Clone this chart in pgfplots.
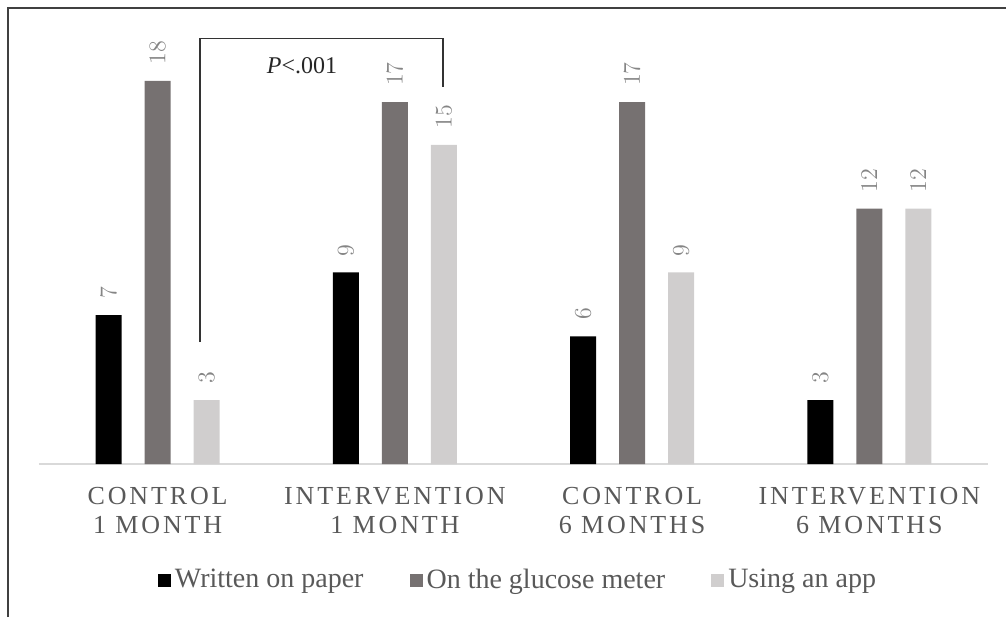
\documentclass[border=0pt]{standalone}
\usepackage{fontspec}
\setmainfont{Liberation Serif}
\newfontfamily\spaced[LetterSpace=11]{Liberation Serif}
\usepackage{pgfplots}
\pgfplotsset{compat=1.18}

\definecolor{paper}{HTML}{000000}
\definecolor{meter}{HTML}{767171}
\definecolor{app}{HTML}{D0CECE}
\definecolor{axisgray}{HTML}{D9D9D9}
\definecolor{txt}{HTML}{595959}
\definecolor{lab}{HTML}{858585}

\begin{document}
\begin{tikzpicture}
\begin{axis}[
  name=ax,
  scale only axis,
  width=474.5pt, height=212.8pt,
  xmin=-0.5, xmax=3.5, ymin=0, ymax=20,
  clip=false,
  axis x line=bottom, axis y line=none,
  x axis line style={draw=axisgray, line width=0.7pt, -},
  xtick={0,1,2,3},
  xticklabels={{CONTROL\\1 MONTH},{INTERVENTION\\1 MONTH},{CONTROL\\6 MONTHS},{INTERVENTION\\6 MONTHS}},
  major tick length=0pt, xtick style={draw=none},
  xticklabel style={align=center, font=\spaced\fontsize{13}{14.8}\selectfont, text=txt, yshift=-8pt},
  ytick=\empty,
  bar width=13pt,
  nodes near coords,
  nodes near coords align=horizontal,
  every node near coord/.append style={font=\fontsize{11.5}{13}\selectfont, text=lab, inner xsep=8pt},
  legend columns=3,
  legend style={at={(0.5058,-0.2726)}, anchor=center, draw=none, fill=none,
    font=\fontsize{14}{16}\selectfont, text=txt,
    /tikz/every even column/.append style={column sep=21pt}},
  legend image code/.code={\fill[#1,draw=none] (0pt,-3.25pt) rectangle (6.5pt,3.25pt);},
]
\addplot[ybar, bar shift=-24.5pt, fill=paper, draw=none,
  every node near coord/.append style={xshift=-24.5pt, rotate=90}] coordinates {(0,7) (1,9) (2,6) (3,3)};
\addplot[ybar, bar shift=0pt, fill=meter, draw=none,
  every node near coord/.append style={rotate=90}] coordinates {(0,18) (1,17) (2,17) (3,12)};
\addplot[ybar, bar shift=24.5pt, fill=app, draw=none,
  every node near coord/.append style={xshift=24.5pt, rotate=90}] coordinates {(0,3) (1,15) (2,9) (3,12)};
\legend{Written on paper, On the glucose meter, Using an app}
\draw[line width=0.75pt, black!80] (axis cs:0.179,5.73) -- (axis cs:0.179,20) -- (axis cs:1.203,20) -- (axis cs:1.203,17.7);
\node[font=\fontsize{12}{14}\selectfont, text=black!85] at (axis cs:0.6085,18.7) {\textit{P}<.001};
\end{axis}
\draw[line width=1pt, black!75] ([shift={(-15.5pt,-76.5pt)}]ax.south west) -- ([shift={(-15.5pt,228pt)}]ax.south west) -- ([shift={(483.5pt,228pt)}]ax.south west);
\pgfresetboundingbox
\path[use as bounding box] ([shift={(-19.5pt,-76.5pt)}]ax.south west) rectangle ([shift={(483.5pt,232pt)}]ax.south west);
\end{tikzpicture}
\end{document}
